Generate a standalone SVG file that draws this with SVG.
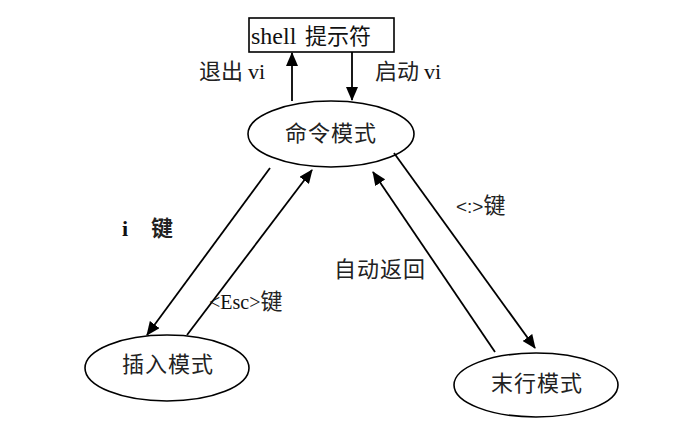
<svg xmlns="http://www.w3.org/2000/svg" width="683" height="431" viewBox="0 0 683 431">
<defs>
<style>
.n{fill:#fff;stroke:#000;stroke-width:1.6}
.c{stroke:#000;stroke-width:1.8;fill:none}
.t{font-family:"Noto Sans CJK SC","Liberation Sans",sans-serif;font-size:22px;fill:#222}
.s{font-family:"Liberation Serif","Noto Sans CJK SC",serif;fill:#111}
</style>
<marker id="ah" markerUnits="userSpaceOnUse" markerWidth="14" markerHeight="12" refX="13" refY="6" orient="auto">
<path d="M0,0 L14,6 L0,12 Z" fill="#000"/>
</marker>
</defs>
<rect width="683" height="431" fill="#fff"/>
<g id="shell">
<rect class="n" x="249" y="18" width="145" height="34"/>
<text class="s" y="44"><tspan x="251" font-size="24">shell</tspan><tspan x="305" font-size="22" font-family="Noto Sans CJK SC,sans-serif">提示符</tspan></text>
</g>
<g id="cmd">
<ellipse class="n" cx="331" cy="134" rx="83" ry="33"/>
<text class="t" x="331" y="141" text-anchor="middle" font-size="23" letter-spacing="1">命令模式</text>
</g>
<g id="insert">
<ellipse class="n" cx="167" cy="368" rx="82" ry="33"/>
<text class="t" x="168" y="372" text-anchor="middle" font-size="23" letter-spacing="1">插入模式</text>
</g>
<g id="last">
<ellipse class="n" cx="536" cy="385" rx="82" ry="32"/>
<text class="t" x="537" y="391" text-anchor="middle" font-size="23" letter-spacing="1">末行模式</text>
</g>
<g id="connectors">
<line class="c" x1="292" y1="101" x2="292" y2="53" marker-end="url(#ah)"/>
<line class="c" x1="352" y1="52" x2="352" y2="100" marker-end="url(#ah)"/>
<line class="c" x1="270" y1="168" x2="147" y2="335" marker-end="url(#ah)"/>
<line class="c" x1="187" y1="335" x2="312" y2="170" marker-end="url(#ah)"/>
<line class="c" x1="394" y1="153" x2="535" y2="348" marker-end="url(#ah)"/>
<line class="c" x1="495" y1="352" x2="373" y2="172" marker-end="url(#ah)"/>
</g>
<g id="labels">
<text class="t" x="199" y="79">退出 <tspan class="s" font-size="22">vi</tspan></text>
<text class="t" x="375" y="79">启动 <tspan class="s" font-size="22">vi</tspan></text>
<text class="t" y="236" font-weight="bold"><tspan class="s" x="122" font-size="22">i</tspan><tspan x="151">键</tspan></text>
<text class="t" x="209" y="309" font-size="20"><tspan class="s" font-size="20">&lt;Esc&gt;</tspan>键</text>
<text class="t" x="456" y="213" font-size="20"><tspan font-family="Liberation Sans,sans-serif" font-size="19">&lt;:&gt;</tspan>键</text>
<text class="t" x="334" y="277" font-size="22" letter-spacing="1">自动返回</text>
</g>
</svg>
